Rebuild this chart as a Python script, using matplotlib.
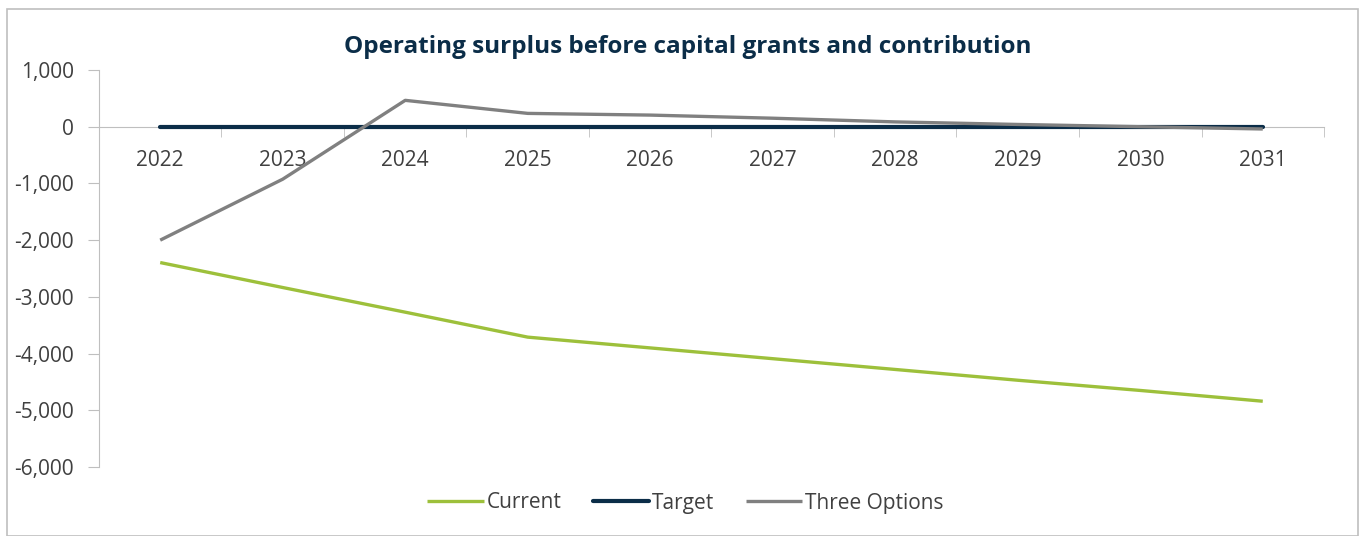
import matplotlib.pyplot as plt
from matplotlib.patches import Rectangle
from matplotlib.ticker import FuncFormatter, FixedLocator

plt.rcParams["font.family"] = ["Open Sans", "DejaVu Sans"]

YEARS = ["2022", "2023", "2024", "2025", "2026", "2027", "2028", "2029", "2030", "2031"]
CURRENT = [-2395, -2835, -3270, -3710, -3900, -4090, -4280, -4470, -4650, -4840]
TARGET = [0, 0, 0, 0, 0, 0, 0, 0, 0, 0]
THREE_OPTIONS = [-2000, -925, 465, 235, 205, 150, 85, 40, 0, -40]

TEXT = "#404040"
AXIS = "#BFBFBF"

fig = plt.figure(figsize=(13.63, 5.36), dpi=100)
ax = fig.add_axes([0.0726, 0.1287, 0.8988, 0.7407])

x = range(len(YEARS))
ax.plot(x, CURRENT, color="#9DC03B", lw=2.4, label="Current", solid_capstyle="butt")
ax.plot(x, TARGET, color="#0B2D48", lw=3.0, label="Target", solid_capstyle="round")
ax.plot(x, THREE_OPTIONS, color="#808080", lw=2.4, label="Three Options", solid_capstyle="butt")

ax.set_xlim(-0.5, len(YEARS) - 0.5)
ax.set_ylim(-6000, 1000)
ax.set_yticks(range(-6000, 1001, 1000))
ax.yaxis.set_major_formatter(FuncFormatter(lambda v, _: f"{int(v):,}"))

ax.set_xticks(list(x))
ax.set_xticklabels(YEARS)
ax.xaxis.set_minor_locator(FixedLocator([i - 0.5 for i in range(len(YEARS) + 1)]))
ax.tick_params(axis="x", which="major", length=0, pad=17, labelsize=15, labelcolor=TEXT)
ax.tick_params(axis="x", which="minor", length=7, color=AXIS, direction="out")
ax.tick_params(axis="y", length=8, color=AXIS, labelsize=15, labelcolor=TEXT, pad=10)

for side in ["top", "right"]:
    ax.spines[side].set_visible(False)
ax.spines["bottom"].set_position(("data", 0))
ax.spines["bottom"].set_color(AXIS)
ax.spines["left"].set_color(AXIS)
ax.spines["bottom"].set_zorder(0)

fig.text(0.5045, 1 - 47 / 536, "Operating surplus before capital grants and contribution",
         fontsize=17.5, fontweight="bold", color="#0B2D48", ha="center", va="center")

handles, labels = ax.get_legend_handles_labels()
fig.legend(handles, labels, loc="center", bbox_to_anchor=(0.503, 1 - 503 / 536), ncol=3,
           frameon=False, fontsize=15, handlelength=2.7, handletextpad=0.15,
           columnspacing=1.5, labelcolor=TEXT)

fig.add_artist(Rectangle((7 / 1363, 0), 1351 / 1363, 1 - 9 / 536, transform=fig.transFigure,
                         fill=False, edgecolor="#BFBFBF", lw=1.2))

fig.savefig("out.png", dpi=100)
